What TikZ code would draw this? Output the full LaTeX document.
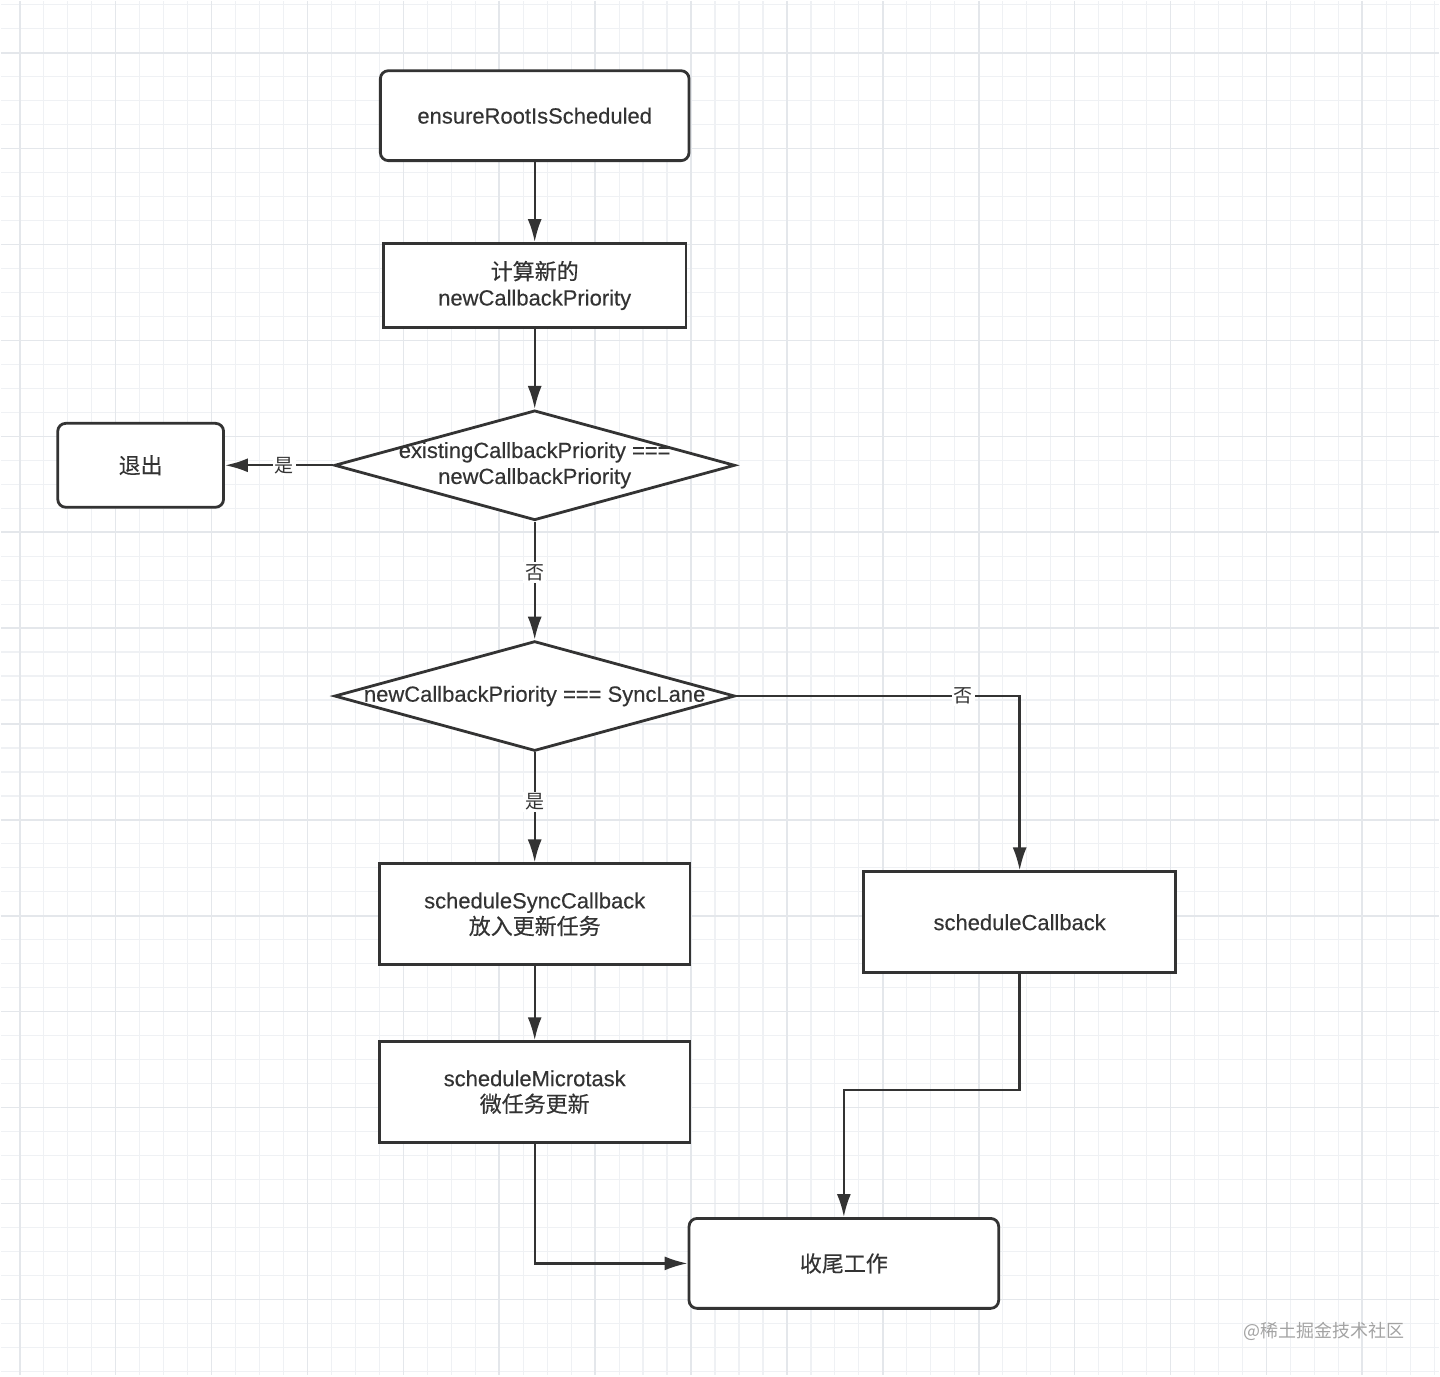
\documentclass[tikz,border=0pt]{standalone}
\usepackage{fontspec}
\setmainfont{Liberation Sans}[FakeBold=0.3]
\newfontfamily\cjk{Noto Sans CJK SC}[FakeBold=0.3]
\newfontfamily\cjklight{Noto Sans CJK SC}
\usetikzlibrary{shapes.geometric,arrows.meta}
\definecolor{ink}{HTML}{333333}
\definecolor{gridminor}{HTML}{EFF1F4}
\definecolor{gridmajor}{HTML}{E4E7EB}
\definecolor{wmgray}{HTML}{A3A3A3}

\begin{document}
\begin{tikzpicture}[x=0.5pt, y=-0.5pt,
  every node/.style={text=ink, font=\fontsize{11}{13}\selectfont},
  box/.style={draw=ink, line width=1.4pt, fill=white, align=center},
  rbox/.style={box, rounded corners=4pt},
  decision/.style={diamond, draw=ink, line width=1.4pt, fill=white, inner sep=0pt,
    minimum width=200.5pt, minimum height=55pt},
  arr/.style={draw=ink, line width=1.2pt, -{Latex[length=11.5pt,width=7pt]}},
  lbl/.style={fill=white, inner sep=1pt, font=\cjklight\fontsize{9.5}{11}\selectfont}]

  % grid paper
  \fill[white] (0,0) rectangle (1440,1376);
  \foreach \x in {19,43,...,1440} \draw[gridminor, line width=0.6pt] (\x,0) -- (\x,1376);
  \foreach \y in {4,28,...,1376} \draw[gridminor, line width=0.6pt] (0,\y) -- (1440,\y);
  \foreach \x in {19,115,...,1440} \draw[gridmajor, line width=0.8pt] (\x,0) -- (\x,1376);
  \foreach \y in {52,148,...,1376} \draw[gridmajor, line width=0.8pt] (0,\y) -- (1440,\y);
  \useasboundingbox (0,0) rectangle (1440,1376);

  \node[rbox, minimum width=154.5pt, minimum height=45pt] (ensure) at (534.5,115) {ensureRootIsScheduled};
  \node[box, minimum width=151.5pt, minimum height=42pt] (calc) at (534.5,285) {{\cjk 计算新的}\\newCallbackPriority};

  \node[decision] (same) at (534.5,465) {};
  \node[align=center] (sameText) at (same) {existingCallbackPriority ===\\newCallbackPriority};
  \node[rbox, minimum width=83pt, minimum height=42pt, font=\cjk\fontsize{11}{13}\selectfont] (quit) at (140,465) {退出};

  \node[decision] (sync) at (534.5,696) {};
  \node (syncText) at (sync) {newCallbackPriority === SyncLane};

  \node[box, minimum width=155.5pt, minimum height=50.5pt] (syncCb) at (534.5,914.5) {scheduleSyncCallback\\{\cjk 放入更新任务}};
  \node[box, minimum width=156pt, minimum height=50.5pt] (cb) at (1020,922.5) {scheduleCallback};
  \node[box, minimum width=155.5pt, minimum height=50.5pt] (micro) at (534.5,1092.5) {scheduleMicrotask\\{\cjk 微任务更新}};
  \node[rbox, minimum width=155pt, minimum height=45pt, font=\cjk\fontsize{11}{13}\selectfont] (finish) at (844,1264) {收尾工作};

  \draw[arr] (ensure) -- (calc);
  \draw[arr] (calc) -- (same);
  \draw[arr] (same) -- node[lbl, pos=0.45] (yesQuit) {是} (quit);
  \draw[arr] (same) -- node[lbl, pos=0.43] (noSame) {否} (sync);
  \draw[arr] (sync.east) -| node[lbl, pos=0.4] (noSync) {否} (cb.north);
  \draw[arr] (sync) -- node[lbl, pos=0.45] (yesSync) {是} (syncCb);
  \draw[arr] (syncCb) -- (micro);
  \draw[arr] (micro.south) |- (finish.west);
  \draw[arr] (cb.south) -- ++(0,116) -| (finish.north);

  \node[text=wmgray, font=\cjklight\fontsize{9}{11}\selectfont] (watermark) at (1325,1332) {@稀土掘金技术社区};
\end{tikzpicture}
\end{document}
